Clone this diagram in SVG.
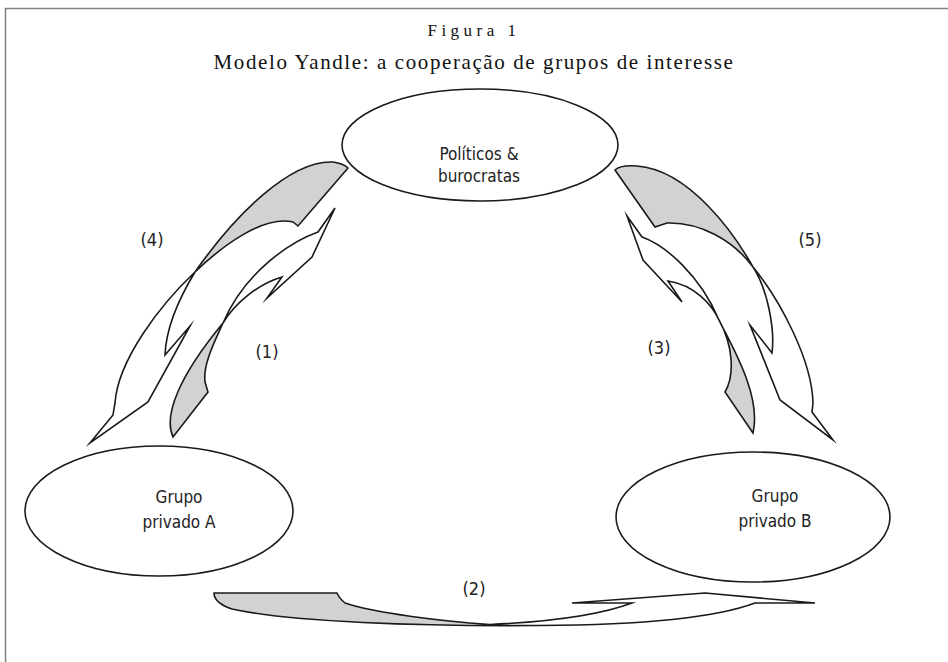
<svg xmlns="http://www.w3.org/2000/svg" width="948" height="662" viewBox="0 0 948 662">
<style>
.frame{fill:none;stroke:#808080;stroke-width:1.5}
.shade{fill:#d1d2d4;stroke:none}
.outline{fill:none;stroke:#1a1a1a;stroke-width:1.6;stroke-linejoin:miter;stroke-miterlimit:10}
.node ellipse{fill:#fff;stroke:#1a1a1a;stroke-width:1.6}
.lbl{font-family:"DejaVu Sans Condensed","Liberation Sans Narrow","Liberation Sans",sans-serif;font-size:17px;fill:#222;text-anchor:middle}
.num{font-size:18px}
.title{font-family:"Liberation Serif","Times New Roman",serif;fill:#111;text-anchor:middle}
</style>
<rect width="948" height="662" fill="#fff"/>
<path class="frame" d="M5.5,662 V8.5 H948"/>
<text class="title" x="474" y="36" font-size="17" letter-spacing="4.5">Figura 1</text>
<text class="title" x="474" y="69" font-size="21" letter-spacing="1.6">Modelo Yandle: a cooperação de grupos de interesse</text>

<g id="connectors">
  <g id="arrow4">
    <path class="shade" d="M195,272 C235,215 290,160 333,162 C340,163 345,165 348,168 L298,226 L293,222 C262,215 220,248 195,272 Z"/>
    <path class="outline" d="M165,355 C166,330 178,300 195,272 C235,215 290,160 333,162 C340,163 345,165 348,168 L298,226 L293,222 C262,215 220,248 195,272 C160,305 118,360 115,403 L113,415 L90,443 L148,402 L190,326 Z"/>
  </g>
  <g id="arrow1">
    <path class="shade" d="M223,323 C213,345 203,365 205,382 L208,392 L173,437 C163,415 180,375 223,323 Z"/>
    <path class="outline" d="M335,208 L318,232 C290,242 245,272 223,323 C213,345 203,365 205,382 L208,392 L173,437 C163,415 180,375 223,323 C235,303 258,284 282,277 L267,298 L312,257 Z"/>
  </g>
  <g id="arrow5">
    <path class="shade" d="M753,267 C735,235 690,170 637,166 C625,165 618,167 615,170 L655,227 L667,223 C700,222 733,240 753,267 Z"/>
    <path class="outline" d="M772,353 C775,330 768,290 753,267 C735,235 690,170 637,166 C625,165 618,167 615,170 L655,227 L667,223 C700,222 733,240 753,267 C780,300 812,360 813,403 L812,412 L833,440 L780,400 L750,325 Z"/>
  </g>
  <g id="arrow3">
    <path class="shade" d="M719,320 C730,343 762,395 753,433 L725,392 C735,375 733,345 719,320 Z"/>
    <path class="outline" d="M627,216 L642,237 C665,245 700,275 719,320 C730,343 762,395 753,433 L725,392 C735,375 733,345 719,320 C712,305 695,285 668,281 L682,302 L643,260 Z"/>
  </g>
  <g id="arrow2">
    <path class="shade" d="M214,593 L337,593 Q339,598 345,603 C375,613 440,621 490,624.5 C420,626 290,622 232,609 Q214,603 214,593 Z"/>
    <path class="outline" d="M632,603 L572,603 L705,593 L815,603 L755,603 C715,618 640,625 540,625.5 C420,626.5 290,622 232,609 Q214,603 214,593 L337,593 Q339,598 345,603 C375,613 440,621 490,624.5 C545,622 600,615 632,603 Z"/>
  </g>
  <text class="lbl num" x="152" y="246">(4)</text>
  <text class="lbl num" x="267" y="358">(1)</text>
  <text class="lbl num" x="810" y="246">(5)</text>
  <text class="lbl num" x="659" y="354">(3)</text>
  <text class="lbl num" x="474" y="595">(2)</text>
</g>

<g id="node-politicos" class="node">
  <ellipse cx="480" cy="145" rx="138" ry="56"/>
  <text class="lbl" x="479" y="160">Políticos &amp;</text>
  <text class="lbl" x="479" y="182">burocratas</text>
</g>
<g id="node-grupoA" class="node">
  <ellipse cx="159" cy="511" rx="134" ry="65"/>
  <text class="lbl" x="179" y="503">Grupo</text>
  <text class="lbl" x="179" y="528">privado A</text>
</g>
<g id="node-grupoB" class="node">
  <ellipse cx="753" cy="517" rx="137" ry="65"/>
  <text class="lbl" x="775" y="502">Grupo</text>
  <text class="lbl" x="775" y="527">privado B</text>
</g>
</svg>
